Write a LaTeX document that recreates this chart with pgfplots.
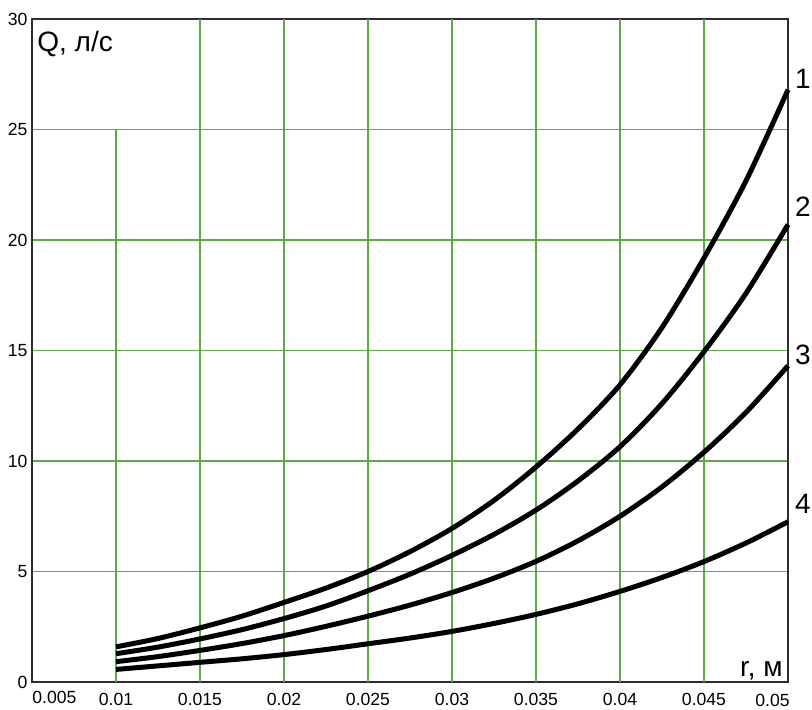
\documentclass[border=0pt]{standalone}
\usepackage{pgfplots}
\pgfplotsset{compat=1.18}
\usepackage{fontspec}
\setmainfont{Liberation Sans}
\definecolor{gridgreen}{RGB}{90,172,70}
\definecolor{axgray}{RGB}{45,45,45}
\begin{document}
\begin{tikzpicture}
\begin{axis}[
  at={(0pt,0pt)}, anchor=south west,
  width=378pt, height=331.5pt, scale only axis,
  xmin=0.005, xmax=0.05, ymin=0, ymax=30,
  scaled x ticks=false, scaled y ticks=false,
  xtick={0.01,0.015,0.02,0.025,0.03,0.035,0.04,0.045},
  xticklabels={0.01,0.015,0.02,0.025,0.03,0.035,0.04,0.045},
  ytick={0,5,10,15,20,25,30},
  yticklabels={0,5,10,15,20,25,30},
  major tick length=0pt,
  ymajorgrids,
  grid style={gridgreen, line width=0.75pt},
  axis line style={axgray, line width=1pt},
  tick label style={font=\fontsize{8.8}{10.5}\selectfont},
  /pgf/number format/assume math mode=true,
  xticklabel style={yshift=-2pt},
  yticklabel style={xshift=1.2pt},
  clip=false,
]
% vertical grid lines
\draw[gridgreen, line width=0.75pt] (axis cs:0.01,0) -- (axis cs:0.01,25);
\draw[gridgreen, line width=0.75pt] (axis cs:0.015,0) -- (axis cs:0.015,30);
\draw[gridgreen, line width=0.75pt] (axis cs:0.02,0) -- (axis cs:0.02,30);
\draw[gridgreen, line width=0.75pt] (axis cs:0.025,0) -- (axis cs:0.025,30);
\draw[gridgreen, line width=0.75pt] (axis cs:0.03,0) -- (axis cs:0.03,30);
\draw[gridgreen, line width=0.75pt] (axis cs:0.035,0) -- (axis cs:0.035,30);
\draw[gridgreen, line width=0.75pt] (axis cs:0.04,0) -- (axis cs:0.04,30);
\draw[gridgreen, line width=0.75pt] (axis cs:0.045,0) -- (axis cs:0.045,30);

\addplot[black, line width=2.5pt, smooth] coordinates {
(0.01,1.59) (0.0125,1.97) (0.015,2.45) (0.0175,2.98) (0.02,3.6) (0.0225,4.25) (0.025,5.0) (0.0275,5.9) (0.03,6.95) (0.0325,8.22) (0.035,9.73) (0.0375,11.45) (0.04,13.45) (0.0425,16.04) (0.045,19.19) (0.0475,22.68) (0.05,26.8)};
\addplot[black, line width=2.5pt, smooth] coordinates {
(0.01,1.28) (0.0125,1.58) (0.015,1.95) (0.0175,2.37) (0.02,2.87) (0.0225,3.44) (0.025,4.13) (0.0275,4.88) (0.03,5.73) (0.0325,6.68) (0.035,7.78) (0.0375,9.1) (0.04,10.65) (0.0425,12.6) (0.045,14.95) (0.0475,17.59) (0.05,20.7)};
\addplot[black, line width=2.5pt, smooth] coordinates {
(0.01,0.92) (0.0125,1.15) (0.015,1.43) (0.0175,1.74) (0.02,2.1) (0.0225,2.52) (0.025,2.98) (0.0275,3.48) (0.03,4.05) (0.0325,4.7) (0.035,5.46) (0.0375,6.39) (0.04,7.5) (0.0425,8.83) (0.045,10.4) (0.0475,12.2) (0.05,14.31)};
\addplot[black, line width=2.5pt, smooth] coordinates {
(0.01,0.57) (0.0125,0.73) (0.015,0.89) (0.0175,1.05) (0.02,1.24) (0.0225,1.47) (0.025,1.73) (0.0275,1.99) (0.03,2.29) (0.0325,2.65) (0.035,3.06) (0.0375,3.54) (0.04,4.1) (0.0425,4.73) (0.045,5.45) (0.0475,6.29) (0.05,7.25)};

% end tick labels
\node[anchor=north west, inner sep=0pt, font=\fontsize{8.8}{10.5}\selectfont] at (axis cs:0.005,0) [yshift=-4.5pt] {0.005};
\node[anchor=north east, inner sep=0pt, font=\fontsize{8.8}{10.5}\selectfont] at (axis cs:0.05,0) [xshift=1pt, yshift=-5.8pt] {0.05};

% curve labels
\node[anchor=west, inner sep=0pt, font=\fontsize{14}{16}\selectfont] at (axis cs:0.05,27.3) [xshift=3.3pt] {1};
\node[anchor=west, inner sep=0pt, font=\fontsize{14}{16}\selectfont] at (axis cs:0.05,21.5) [xshift=3.3pt] {2};
\node[anchor=west, inner sep=0pt, font=\fontsize{14}{16}\selectfont] at (axis cs:0.05,14.8) [xshift=3.3pt] {3};
\node[anchor=west, inner sep=0pt, font=\fontsize{14}{16}\selectfont] at (axis cs:0.05,8.07) [xshift=3.3pt] {4};

% axis labels
\node[anchor=base west, inner sep=0pt, font=\fontsize{14}{16}\selectfont] at (rel axis cs:0,1) [xshift=2.5pt, yshift=-16pt] {Q, л/с};
\node[anchor=base east, inner sep=0pt, font=\fontsize{14}{16}\selectfont] at (rel axis cs:1,0) [xshift=-2.5pt, yshift=3pt] {r, м};
\end{axis}
\pgfresetboundingbox
\useasboundingbox (-16pt,-13.5pt) rectangle (390pt,341pt);
\end{tikzpicture}
\end{document}
